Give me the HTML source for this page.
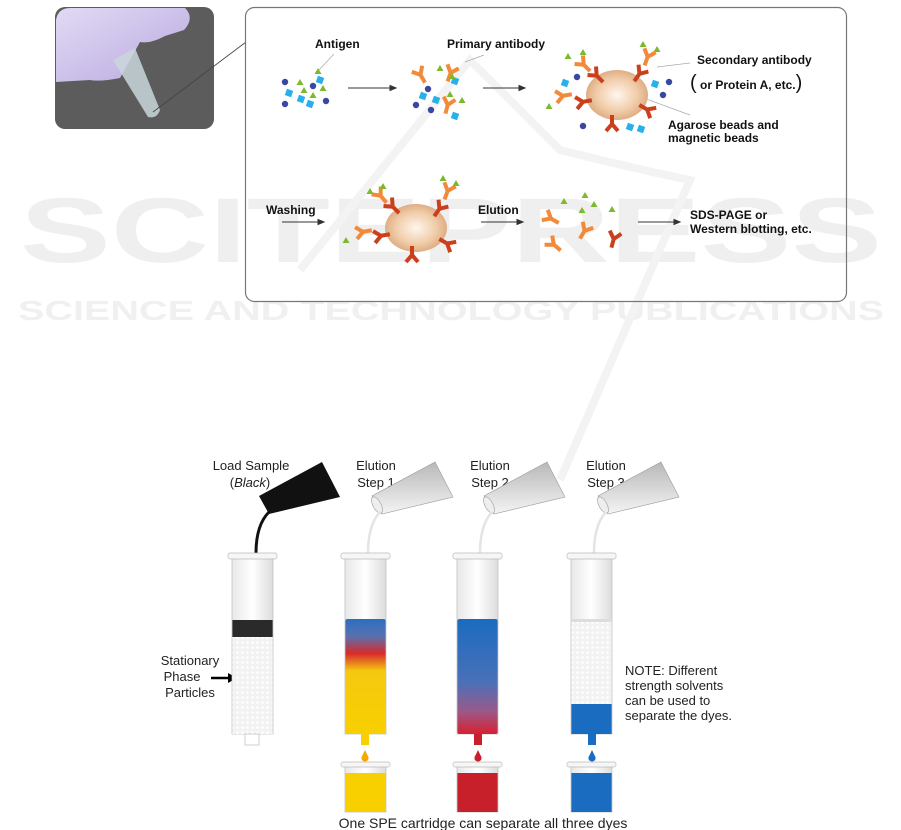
<!DOCTYPE html>
<html><head><meta charset="utf-8"><style>
html,body{margin:0;padding:0;background:#fff}
svg{display:block}
text{font-family:"Liberation Sans",sans-serif}
</style></head><body>
<svg width="901" height="830" viewBox="0 0 901 830" xmlns="http://www.w3.org/2000/svg">
<defs>
<radialGradient id="bead" cx="50%" cy="50%" r="55%">
<stop offset="0" stop-color="#fff6ee"/><stop offset="0.6" stop-color="#f0cca8"/><stop offset="1" stop-color="#d9a57a"/></radialGradient>
<linearGradient id="glove" x1="0" y1="0" x2="1" y2="1"><stop offset="0" stop-color="#e2daf4"/><stop offset="1" stop-color="#b8a9e0"/></linearGradient>
<linearGradient id="c2" x1="0" y1="0" x2="0" y2="1">
<stop offset="0" stop-color="#2a6fc0"/><stop offset="0.15" stop-color="#5a70b0"/><stop offset="0.3" stop-color="#d82a2a"/><stop offset="0.45" stop-color="#f5c810"/><stop offset="1" stop-color="#f8d000"/></linearGradient>
<linearGradient id="c3" x1="0" y1="0" x2="0" y2="1">
<stop offset="0" stop-color="#1a6cc0"/><stop offset="0.55" stop-color="#4a70b8"/><stop offset="0.8" stop-color="#9a5a8a"/><stop offset="1" stop-color="#d82030"/></linearGradient>
<linearGradient id="gl" x1="0" y1="0" x2="1" y2="0"><stop offset="0" stop-color="#e8e8e8"/><stop offset="0.5" stop-color="#fff"/><stop offset="1" stop-color="#dcdcdc"/></linearGradient>
<linearGradient id="pour" x1="0" y1="1" x2="0" y2="0"><stop offset="0" stop-color="#f4f4f4"/><stop offset="1" stop-color="#b8b8b8"/></linearGradient>
<pattern id="dots" width="5" height="5" patternUnits="userSpaceOnUse"><rect width="5" height="5" fill="#f2f2f2"/><circle cx="2.5" cy="2.5" r="1.3" fill="#fff"/></pattern>
<g id="yo"><path d="M0 10 V1 L-6 -6 M0 1 L6 -6" stroke="#f28a3a" stroke-width="4" fill="none"/></g>
<g id="yr"><path d="M0 10 V1 L-6 -6 M0 1 L6 -6" stroke="#cc3f1c" stroke-width="4" fill="none"/></g>
<path id="tri" d="M0 -3 L3.5 3 L-3.5 3Z" fill="#7cba2c"/>
<circle id="dot" r="3.2" fill="#3a47a0"/>
<rect id="dia" x="-3.3" y="-3.3" width="6.6" height="6.6" fill="#27b0ea" transform="rotate(20)"/>
</defs>

<!-- watermark -->
<text x="20" y="262" font-size="92" font-weight="bold" fill="#efefef" textLength="862" lengthAdjust="spacingAndGlyphs">SCITEPRESS</text>
<text x="18" y="320" font-size="28" font-weight="bold" fill="#f0f0f0" textLength="866" lengthAdjust="spacingAndGlyphs">SCIENCE AND TECHNOLOGY PUBLICATIONS</text>
<path d="M300 270 L470 60 L560 150 Q640 170 690 180 L560 480" stroke="#f3f3f3" stroke-width="8" fill="none"/>

<!-- photo -->
<rect x="55" y="7" width="159" height="122" rx="10" fill="#5c5c5c"/>
<path d="M56 20 Q58 8 70 8 L185 8 Q195 18 184 30 L165 36 Q150 44 140 42 Q130 60 120 78 Q100 82 90 80 L56 82Z" fill="url(#glove)"/>
<path d="M113 60 L135 48 L160 110 Q157 119 148 117Z" fill="#c9d6da" opacity="0.85"/>
<line x1="153" y1="112" x2="246" y2="42" stroke="#444" stroke-width="0.8"/>

<!-- top box -->
<rect x="245.5" y="7.5" width="601" height="294" rx="9" fill="none" stroke="#777" stroke-width="1.2"/>
<g font-size="12" font-weight="bold" fill="#111">
<text x="315" y="48">Antigen</text>
<text x="447" y="48">Primary antibody</text>
<text x="697" y="64">Secondary antibody</text>
<text x="690" y="89"><tspan font-size="20" font-weight="normal">(</tspan> or Protein A, etc.<tspan font-size="20" font-weight="normal">)</tspan></text>
<text x="668" y="129">Agarose beads and</text>
<text x="668" y="142">magnetic beads</text>
<text x="266" y="214">Washing</text>
<text x="478" y="214">Elution</text>
<text x="690" y="219">SDS-PAGE or</text>
<text x="690" y="233">Western blotting, etc.</text>
</g>
<g stroke="#333" stroke-width="1" fill="#333">
<line x1="348" y1="88" x2="392" y2="88"/><path d="M396 88 L390 85.5 L390 90.5Z"/>
<line x1="483" y1="88" x2="521" y2="88"/><path d="M525 88 L519 85.5 L519 90.5Z"/>
<line x1="282" y1="222" x2="320" y2="222"/><path d="M324 222 L318 219.5 L318 224.5Z"/>
<line x1="481" y1="222" x2="519" y2="222"/><path d="M523 222 L517 219.5 L517 224.5Z"/>
<line x1="638" y1="222" x2="676" y2="222"/><path d="M680 222 L674 219.5 L674 224.5Z"/>
</g>
<g stroke="#aaa" stroke-width="0.7"><line x1="334" y1="54" x2="319" y2="70"/><line x1="484" y1="55" x2="465" y2="62"/><line x1="690" y1="63" x2="657" y2="67"/><line x1="630" y1="93" x2="690" y2="115"/></g>

<!-- antigen cluster -->
<use href="#dot" x="285" y="82"/><use href="#dot" x="313" y="86"/><use href="#dot" x="326" y="101"/><use href="#dot" x="285" y="104"/>
<use href="#dia" x="289" y="93"/><use href="#dia" x="301" y="99"/><use href="#dia" x="310" y="104"/><use href="#dia" x="320" y="80"/>
<use href="#tri" x="318" y="71"/><use href="#tri" x="300" y="82"/><use href="#tri" x="304" y="90"/><use href="#tri" x="313" y="95"/><use href="#tri" x="323" y="88"/>
<!-- primary cluster -->
<use href="#yo" transform="translate(420,74) rotate(-30)"/><use href="#yo" transform="translate(451,72) rotate(20)"/><use href="#yo" transform="translate(448,104) rotate(15)"/>
<use href="#dot" x="416" y="105"/><use href="#dot" x="428" y="89"/><use href="#dot" x="431" y="110"/><use href="#dia" x="423" y="96"/><use href="#dia" x="436" y="100"/><use href="#dia" x="455" y="81"/><use href="#dia" x="455" y="116"/>
<use href="#tri" x="440" y="68"/><use href="#tri" x="452" y="76"/><use href="#tri" x="450" y="94"/><use href="#tri" x="462" y="100"/>
<!-- bead 1 -->
<ellipse cx="617" cy="95" rx="31" ry="25" fill="url(#bead)"/>
<use href="#yr" transform="translate(596,75) rotate(-45)"/><use href="#yo" transform="translate(583,64) rotate(-45)"/>
<use href="#yr" transform="translate(640,73) rotate(35)"/><use href="#yo" transform="translate(648,56) rotate(20)"/>
<use href="#yr" transform="translate(582,102) rotate(-100)"/><use href="#yo" transform="translate(562,96) rotate(-100)"/>
<use href="#yr" transform="translate(648,110) rotate(120)"/><use href="#yr" transform="translate(612,125) rotate(180)"/>
<use href="#dot" x="577" y="77"/><use href="#dot" x="669" y="82"/><use href="#dot" x="663" y="95"/><use href="#dot" x="583" y="126"/>
<use href="#dia" x="565" y="83"/><use href="#dia" x="655" y="84"/><use href="#dia" x="630" y="127"/><use href="#dia" x="641" y="129"/>
<use href="#tri" x="568" y="56"/><use href="#tri" x="583" y="52"/><use href="#tri" x="643" y="44"/><use href="#tri" x="657" y="49"/><use href="#tri" x="549" y="106"/>
<!-- bead 2 -->
<ellipse cx="416" cy="228" rx="31" ry="24" fill="url(#bead)"/>
<use href="#yr" transform="translate(392,206) rotate(-45)"/><use href="#yo" transform="translate(380,195) rotate(-40)"/>
<use href="#yr" transform="translate(440,208) rotate(35)"/><use href="#yo" transform="translate(448,190) rotate(20)"/>
<use href="#yr" transform="translate(380,236) rotate(-100)"/><use href="#yo" transform="translate(362,232) rotate(-100)"/>
<use href="#yr" transform="translate(448,244) rotate(120)"/><use href="#yr" transform="translate(412,256) rotate(180)"/>
<use href="#tri" x="370" y="191"/><use href="#tri" x="383" y="186"/><use href="#tri" x="443" y="178"/><use href="#tri" x="456" y="183"/><use href="#tri" x="346" y="240"/>
<!-- eluted -->
<use href="#yo" transform="translate(550,218) rotate(-60)"/><use href="#yo" transform="translate(585,230) rotate(30)"/><use href="#yo" transform="translate(553,244) rotate(-50)"/><use href="#yr" transform="translate(614,238) rotate(15)"/>
<use href="#tri" x="564" y="201"/><use href="#tri" x="585" y="195"/><use href="#tri" x="594" y="204"/><use href="#tri" x="582" y="210"/><use href="#tri" x="612" y="209"/>

<!-- SPE bottom -->
<g font-size="13" fill="#222" text-anchor="middle">
<text x="251" y="470">Load Sample</text><text x="250" y="487">(<tspan font-style="italic">Black</tspan>)</text>
<text x="376" y="470">Elution</text><text x="376" y="487">Step 1</text>
<text x="490" y="470">Elution</text><text x="490" y="487">Step 2</text>
<text x="606" y="470">Elution</text><text x="606" y="487">Step 3</text>
<text x="190" y="665">Stationary</text><text x="182" y="681">Phase</text><text x="190" y="697">Particles</text>
<text x="483" y="828" font-size="14">One SPE cartridge can separate all three dyes</text>
</g>
<g font-size="13" fill="#222">
<text x="625" y="675">NOTE: Different</text><text x="625" y="690">strength solvents</text><text x="625" y="705">can be used to</text><text x="625" y="720">separate the dyes.</text>
</g>
<line x1="211" y1="678" x2="229" y2="678" stroke="#000" stroke-width="2.5"/><path d="M237 678 L228 673 L228 683Z"/>

<!-- pouring beakers -->
<g>
<path d="M259 496 L269 514 L340 497 L322 462Z" fill="#111"/>
<path d="M269 512 Q256 525 256 553" stroke="#111" stroke-width="3" fill="none"/>
</g>
<g id="pb">
<path d="M372 496 L382 514 L453 497 L435 462Z" fill="url(#pour)" stroke="#999" stroke-width="0.6"/>
<ellipse cx="377" cy="505" rx="4" ry="9" transform="rotate(-28 377 505)" fill="#eee" stroke="#999" stroke-width="0.6"/>
<path d="M380 512 Q368 525 368 553" stroke="#e4e4e4" stroke-width="2.5" fill="none"/>
</g>
<use href="#pb" x="112"/><use href="#pb" x="226"/>

<!-- tubes -->
<g id="tb">
<rect x="232" y="558" width="41" height="176" fill="url(#gl)" stroke="#bbb" stroke-width="0.7"/>
<rect x="228" y="553" width="49" height="6" rx="2" fill="#f6f6f6" stroke="#bbb" stroke-width="0.7"/>
</g>
<use href="#tb" x="113"/><use href="#tb" x="225"/><use href="#tb" x="339"/>
<!-- tube1 -->
<rect x="232.4" y="637" width="40.2" height="97" fill="url(#dots)"/>
<rect x="232.4" y="620" width="40.2" height="17" fill="#2a2a2a"/>
<rect x="245" y="734" width="14" height="11" fill="#fff" stroke="#bbb" stroke-width="0.7"/>
<!-- tube2 -->
<rect x="345.4" y="619" width="40.2" height="115" rx="2" fill="url(#c2)"/>
<rect x="361" y="734" width="8" height="11" fill="#f8d000"/>
<circle cx="365" cy="758" r="3.6" fill="#f5a800"/><path d="M365 750 L361.7 757 L368.3 757Z" fill="#f5a800"/>
<!-- tube3 -->
<rect x="457.4" y="619" width="40.2" height="115" rx="2" fill="url(#c3)"/>
<rect x="474" y="734" width="8" height="11" fill="#c8202a"/>
<circle cx="478" cy="758" r="3.6" fill="#c8202a"/><path d="M478 750 L474.7 757 L481.3 757Z" fill="#c8202a"/>
<!-- tube4 -->
<rect x="571.4" y="619" width="40.2" height="85" fill="url(#dots)"/>
<rect x="571.4" y="619" width="40.2" height="3" fill="#ddd"/>
<rect x="571.4" y="704" width="40.2" height="30" fill="#1a6cc0"/>
<rect x="588" y="734" width="8" height="11" fill="#1a6cc0"/>
<circle cx="592" cy="758" r="3.6" fill="#1a6cc0"/><path d="M592 750 L588.7 757 L595.3 757Z" fill="#1a6cc0"/>

<!-- collection vials -->
<g id="vl">
<rect x="345" y="766" width="41" height="46" fill="url(#gl)" stroke="#bbb" stroke-width="0.7"/>
<rect x="341" y="762" width="49" height="5" rx="2" fill="#f6f6f6" stroke="#bbb" stroke-width="0.7"/>
</g>
<use href="#vl" x="112"/><use href="#vl" x="226"/>
<rect x="345.4" y="773" width="40.2" height="39" fill="#f8d000"/>
<rect x="457.4" y="773" width="40.2" height="39" fill="#c8202a"/>
<rect x="571.4" y="773" width="40.2" height="39" fill="#1a6cc0"/>
</svg>
</body></html>
